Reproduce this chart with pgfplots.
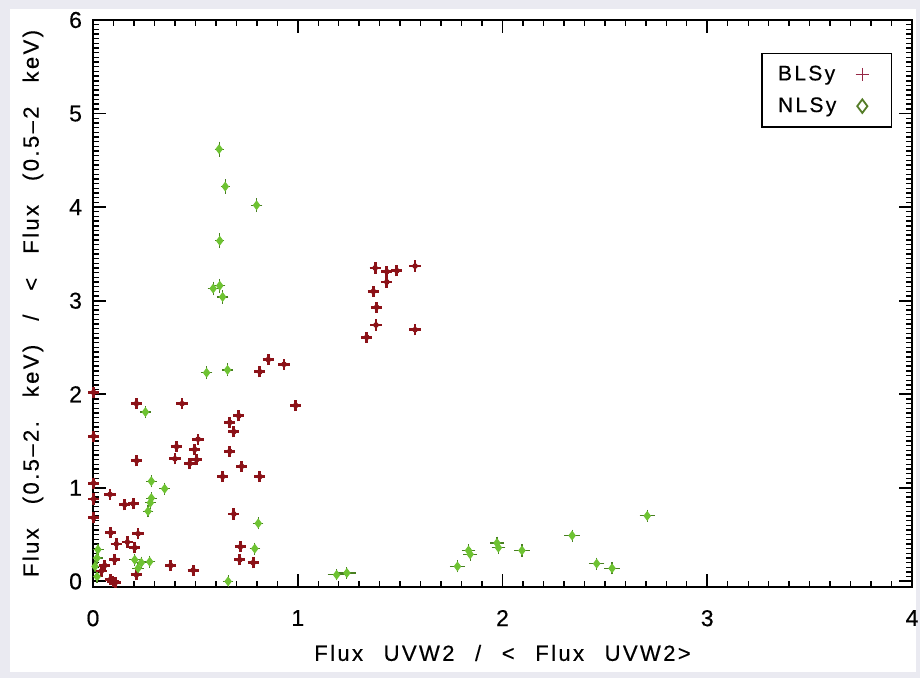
\documentclass[border=0pt]{standalone}
\usepackage{pgfplots}
\pgfplotsset{compat=1.18}
\usepackage{pgfplotstable}
\usepackage{fontspec}
\setmainfont{Liberation Sans}
\newfontfamily\idlfont[LetterSpace=11,FakeBold=0.4]{Liberation Sans}
\newcommand\gapx{\hspace*{10.3pt}}
\newcommand\gapy{\hspace*{12pt}}

\definecolor{blsy}{RGB}{140,18,24}
\definecolor{nlsy}{RGB}{110,195,50}
\definecolor{legred}{RGB}{150,40,70}
\definecolor{leggreen}{RGB}{85,125,40}
\definecolor{framebg}{RGB}{234,234,241}

% legend symbol centred in a fixed-width slot
\pgfplotsset{centredmark/.style={legend image code/.code={%
  \path[draw=none] (0pt,0pt) (17pt,0pt);
  \draw[##1] plot coordinates {(8.5pt,0pt)};}}}

% cross with a filled centre, as used for the broad-line sources
\pgfdeclareplotmark{crossdot}{%
  \pgfpathmoveto{\pgfqpoint{-\pgfplotmarksize}{0pt}}%
  \pgfpathlineto{\pgfqpoint{\pgfplotmarksize}{0pt}}%
  \pgfpathmoveto{\pgfqpoint{0pt}{-\pgfplotmarksize}}%
  \pgfpathlineto{\pgfqpoint{0pt}{\pgfplotmarksize}}%
  \pgfusepathqstroke
  \pgfpathcircle{\pgfpointorigin}{0.5\pgfplotmarksize}%
  \pgfusepathqfill
}

% Broad-line Seyferts: UVW2 ratio, soft X-ray ratio
\pgfplotstableread{
x y
0.003 2.02
0.003 1.55
0.003 1.05
0.003 0.88
0.003 0.68
1.378 3.35
1.435 3.31
1.484 3.32
1.573 3.37
1.435 3.20
1.369 3.10
1.385 2.93
1.382 2.74
1.573 2.69
1.337 2.61
0.856 2.37
0.815 2.24
0.933 2.32
0.990 1.88
0.212 1.90
0.435 1.90
0.712 1.77
0.668 1.70
0.688 1.60
0.668 1.39
0.726 1.23
0.633 1.12
0.815 1.12
0.213 1.29
0.408 1.44
0.400 1.31
0.513 1.52
0.497 1.41
0.473 1.26
0.506 1.30
0.688 0.72
0.083 0.93
0.155 0.82
0.196 0.83
0.087 0.52
0.220 0.51
0.114 0.40
0.168 0.42
0.204 0.36
0.720 0.37
0.717 0.23
0.782 0.20
0.380 0.17
0.489 0.12
0.106 0.23
0.057 0.17
0.041 0.11
0.212 0.07
0.098 0.00
0.085 0.02
0.110 -0.01
}\blsytable

% Narrow-line Seyferts with their uncertainties
\pgfplotstableread{
x y ex ey
0.616 4.62 0.006 0.045
0.646 4.22 0.006 0.045
0.799 4.02 0.012 0.040
0.619 3.64 0.006 0.045
0.587 3.13 0.012 0.040
0.619 3.16 0.012 0.040
0.633 3.04 0.012 0.040
0.555 2.23 0.012 0.035
0.657 2.26 0.010 0.035
0.256 1.81 0.010 0.030
0.285 1.07 0.010 0.030
0.350 0.99 0.010 0.030
0.285 0.89 0.010 0.030
0.280 0.84 0.010 0.030
0.269 0.75 0.010 0.030
0.807 0.62 0.010 0.030
0.790 0.35 0.010 0.030
0.660 0.00 0.010 0.030
0.204 0.23 0.012 0.030
0.236 0.20 0.012 0.030
0.277 0.21 0.012 0.030
0.220 0.14 0.012 0.030
0.024 0.34 0.012 0.030
0.020 0.25 0.012 0.030
0.010 0.16 0.012 0.030
0.020 0.05 0.012 0.030
1.190 0.07 0.028 0.025
1.240 0.09 0.028 0.025
1.780 0.16 0.022 0.030
1.834 0.33 0.018 0.035
1.842 0.29 0.018 0.035
1.973 0.41 0.018 0.035
1.980 0.36 0.018 0.035
2.095 0.33 0.022 0.030
2.340 0.49 0.022 0.030
2.460 0.19 0.022 0.030
2.535 0.14 0.022 0.030
2.707 0.70 0.022 0.030
}\nlsytable

\begin{document}
\begin{tikzpicture}
\fill[framebg] (-46.5pt,-45.5pt) rectangle (413.5pt,293.5pt);
\fill[white] (-41.5pt,-42.5pt) rectangle (411.5pt,289pt);
\useasboundingbox (-46.5pt,-45.5pt) rectangle (413.5pt,293.5pt);
\begin{axis}[
  at={(0,0)}, anchor=south west,
  scale only axis, width=409.5pt, height=283.5pt,
  xmin=0, xmax=4, ymin=-0.06, ymax=6,
  xtick={0,1,2,3,4}, ytick={0,1,2,3,4,5,6},
  minor x tick num=9, minor y tick num=19,
  tick align=inside, xtick pos=both, ytick pos=both,
  xticklabel pos=bottom, yticklabel pos=left,
  major tick length=6.5pt, minor tick length=3.2pt,
  every major tick/.style={black, line width=0.9pt},
  every minor tick/.style={black, line width=0.7pt},
  axis line style={line width=1pt},
  /pgf/number format/assume math mode=true,
  tick label style={font=\idlfont\fontsize{11.5}{13}\selectfont},
  xticklabel style={yshift=-8pt},
  yticklabel style={xshift=-2pt},
  xlabel={Flux\gapx UVW2\gapx /\gapx <\gapx Flux\gapx UVW2>},
  ylabel={Flux\gapy (0.5–2.\gapy keV)\gapy /\gapy <\gapy Flux\gapy (0.5–2\gapy keV)},
  xlabel style={at={(axis description cs:0.5,-0.1164)}, anchor=center, font=\idlfont\fontsize{11}{13}\selectfont},
  ylabel style={at={(axis description cs:-0.0733,0.5)}, anchor=center, font=\idlfont\fontsize{11}{13}\selectfont},
  legend plot pos=right,
  legend style={at={(axis description cs:0.9756,0.9418)}, anchor=north east,
    draw=black, line width=0.7pt, fill=white,
    font=\idlfont\fontsize{10.5}{12}\selectfont,
    inner xsep=6pt, inner ysep=4pt, row sep=3pt,
    cells={anchor=west},
    /tikz/every odd column/.append style={column sep=2.5pt}},
]
\addplot[only marks, mark=crossdot, mark size=2.8pt, color=blsy, line width=1.4pt, forget plot]
  table[x=x, y=y] {\blsytable};
\addplot[only marks, mark=diamond*, mark size=2pt, color=nlsy, line width=0.6pt, forget plot,
  error bars/.cd, x dir=both, x explicit, y dir=both, y explicit,
  error bar style={color=nlsy!65!black, line width=0.6pt},
  error mark options={color=nlsy!65!black, line width=0.6pt, mark size=1.6pt}]
  table[x=x, y=y, x error=ex, y error=ey] {\nlsytable};
\addlegendimage{centredmark, only marks, mark=+, mark size=3.3pt, color=legred, line width=0.8pt}
\addlegendentry{BLSy}
\addlegendimage{centredmark, only marks, mark=diamond, mark size=3.4pt, color=leggreen, line width=0.9pt}
\addlegendentry{NLSy}
\end{axis}
\end{tikzpicture}
\end{document}
